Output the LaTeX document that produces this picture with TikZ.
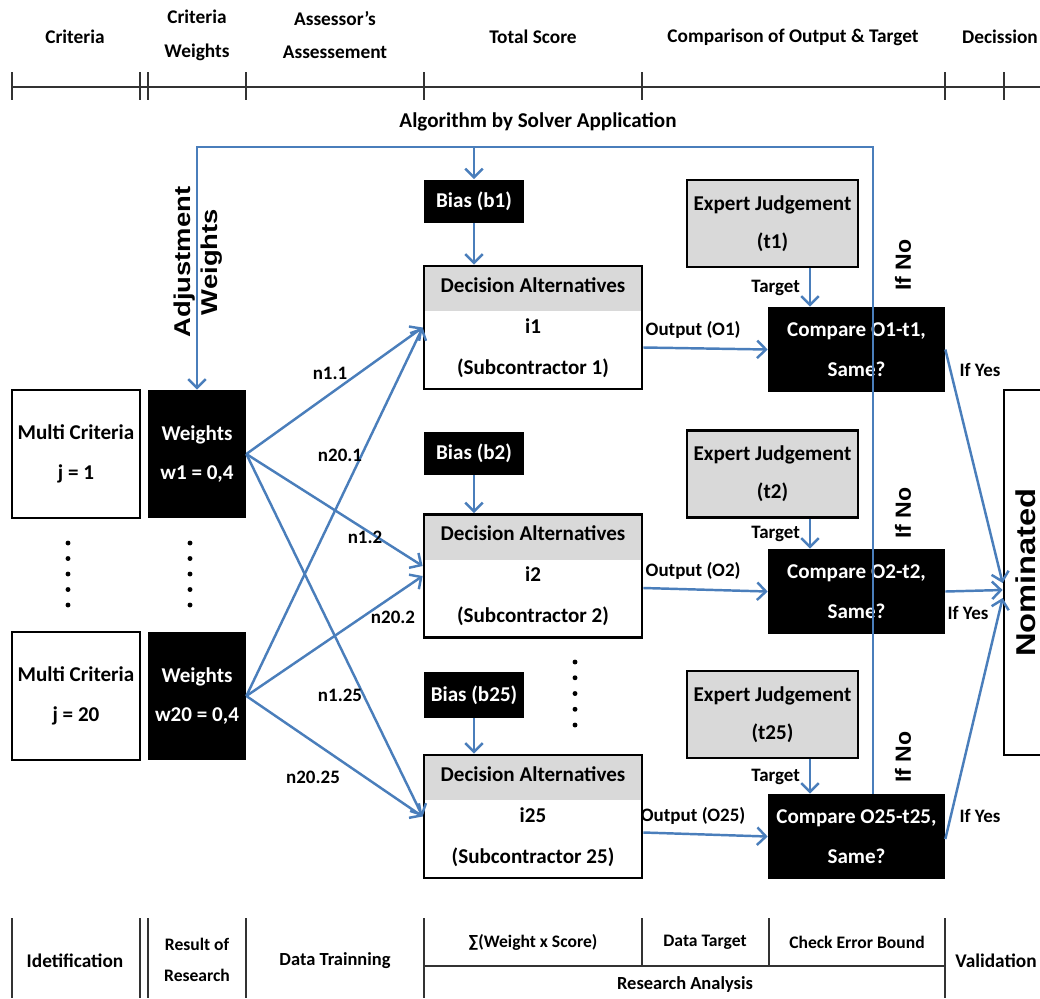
\documentclass[tikz,border=0pt]{standalone}
\usepackage{fontspec}
\usepackage{graphicx}
\setmainfont{Carlito}
\newfontfamily\arialfont{Liberation Sans}
\usetikzlibrary{arrows.meta}
\definecolor{flowblue}{HTML}{4A7EBB}
\definecolor{hdrgray}{HTML}{D9D9D9}
\newcommand{\tallword}[2]{\scalebox{#1}[1]{#2}}

\begin{document}
\begin{tikzpicture}[x=0.02cm, y=-0.02cm,
  every node/.style={inner sep=0pt, font=\fontsize{12}{22.7}\selectfont\bfseries},
  flow/.style={draw=flowblue, line width=1.4pt, -{Straight Barb[length=5pt, width=10pt]}},
  rule/.style={draw=black!80, line width=0.8pt},
  headtxt/.style={align=center, font=\fontsize{11}{19.3}\selectfont\bfseries},
  foottxt/.style={align=center, font=\fontsize{10}{18}\selectfont\bfseries},
  lbl/.style={font=\fontsize{10.8}{12}\selectfont\bfseries},
  side/.style={rotate=90, align=center, font=\arialfont\fontsize{12.5}{15.3}\selectfont\bfseries},
  critbox/.style={draw, line width=1.6pt, minimum width=2.56cm, minimum height=2.56cm, align=center},
  wtbox/.style={fill=black, text=white, minimum width=1.96cm, minimum height=2.56cm, align=center},
  biasbox/.style={fill=black, text=white, minimum width=2cm, minimum height=0.86cm},
  altbox/.style={draw, line width=1.6pt, minimum width=4.36cm, minimum height=2.46cm, align=center,
    font=\fontsize{12}{23.3}\selectfont\bfseries,
    path picture={\fill[hdrgray] (path picture bounding box.north west) rectangle ([yshift=-0.9cm]path picture bounding box.north east);}},
  expbox/.style={draw, line width=1.6pt, fill=hdrgray, minimum width=3.42cm, minimum height=1.74cm, align=center,
    font=\fontsize{12}{21.5}\selectfont\bfseries},
  cmpbox/.style={fill=black, text=white, minimum width=3.54cm, minimum height=1.7cm, align=center}]
  \useasboundingbox (0,0) rectangle (1040,998);

  % header
  \node[headtxt] (hcrit) at (75,37) {Criteria};
  \node[headtxt] (hwt) at (197,35) {Criteria\\Weights};
  \node[headtxt] (hass) at (335,35) {Assessor's\\Assessement};
  \node[headtxt] (htot) at (533,37) {Total Score};
  \node[headtxt] (hcmp) at (793,37) {Comparison of Output \& Target};
  \node[headtxt] (hdec) at (1000,37) {Decission};
  \draw[rule] (12,87) -- (1040,87);
  \foreach \x in {12,140,148,246,424,642,945,1004}
    \draw[rule] (\x,72) -- (\x,100);

  % criteria and weights
  \node[critbox] (crit1) at (76,454) {Multi Criteria\\j = 1};
  \node[wtbox] (wt1) at (197,454) {Weights\\w1 = 0,4};
  \node[critbox] (crit20) at (76,696) {Multi Criteria\\j = 20};
  \node[wtbox] (wt20) at (197,696) {Weights\\w20 = 0,4};
  \foreach \y in {543,558.5,574,589.5,605} {
    \fill (68,\y) circle[radius=1.4pt];
    \fill (190,\y) circle[radius=1.4pt];
  }

  % alternatives
  \node[biasbox] (bias1) at (474,201) {Bias (b1)};
  \node[altbox] (da1) at (533,327.5) {Decision Alternatives\\i1\\(Subcontractor 1)};
  \node[biasbox] (bias2) at (474,453.5) {Bias (b2)};
  \node[altbox] (da2) at (533,576) {Decision Alternatives\\i2\\(Subcontractor 2)};
  \node[biasbox, minimum height=0.92cm] (bias25) at (474,695) {Bias (b25)};
  \node[altbox] (da25) at (533,816.5) {Decision Alternatives\\i25\\(Subcontractor 25)};
  \foreach \y in {662,677.75,693.5,709.25,725}
    \fill (575,\y) circle[radius=1.4pt];
  \foreach \i in {1,2,25}
    \draw[flow] (bias\i.south) -- (bias\i.south |- da\i.north);

  % weight connections
  \draw[flow] (wt1.east) -- (da1.west);
  \draw[flow] (wt1.east) -- ([yshift=0.2cm]da2.west);
  \draw[flow] (wt1.east) -- (da25.west);
  \draw[flow] (wt20.east) -- (da1.west);
  \draw[flow] (wt20.east) -- (da2.west);
  \draw[flow] (wt20.east) -- (da25.west);
  \node[lbl] (n11) at (330,373) {n1.1};
  \node[lbl] (n201) at (340,455) {n20.1};
  \node[lbl] (n12) at (365,537) {n1.2};
  \node[lbl] (n202) at (393,617) {n20.2};
  \node[lbl] (n125) at (340,695) {n1.25};
  \node[lbl] (n2025) at (313,777) {n20.25};

  % targets and comparison
  \node[expbox] (exp1) at (772.5,223.5) {Expert Judgement\\(t1)};
  \node[cmpbox] (cmp1) at (856.5,349.5) {Compare O1-t1,\\Same?};
  \node[expbox] (exp2) at (772.5,474) {Expert Judgement\\(t2)};
  \node[cmpbox] (cmp2) at (856.5,591.5) {Compare O2-t2,\\Same?};
  \node[expbox] (exp25) at (772.5,714.5) {Expert Judgement\\(t25)};
  \node[cmpbox] (cmp25) at (856.5,836.5) {Compare O25-t25,\\Same?};
  \foreach \i in {1,2,25}
    \draw[flow] ([xshift=0.75cm]exp\i.south) -- ([xshift=0.75cm]exp\i.south |- cmp\i.north)
      node[lbl, midway, left=5pt] {Target};
  \draw[flow] ([yshift=-0.4cm]da1.east) -- (cmp1.west)
    node[lbl, pos=0.4, above=5pt] {Output (O1)};
  \draw[flow] ([yshift=-0.24cm]da2.east) -- (cmp2.west)
    node[lbl, pos=0.4, above=5pt] {Output (O2)};
  \draw[flow] ([yshift=-0.32cm]da25.east) -- (cmp25.west)
    node[lbl, pos=0.4, above=5pt] {Output (O25)};

  % solver loop
  \coordinate (loop) at (0,147);
  \draw[flow] ([xshift=0.33cm]cmp25.north) |- (loop -| wt1.north) -- (wt1.north);
  \draw[flow] (loop -| bias1.north) -- (bias1.north);
  \node (alg) at (538,122) {Algorithm by Solver Application};
  \node[side, font=\arialfont\fontsize{13}{15.6}\selectfont\bfseries] (adj) at (198,262)
    {\tallword{1.2}{Adjustment}\\\tallword{1.2}{Weights}};
  \node[side] (no1) at (903,265) {\tallword{1.05}{If No}};
  \node[side] (no2) at (903,513) {\tallword{1.05}{If No}};
  \node[side] (no25) at (903,757) {\tallword{1.05}{If No}};

  % validation
  \node[draw, line width=1.6pt, minimum width=0.88cm, minimum height=7.3cm] (nom) at (1026,572.5)
    {\rotatebox{90}{\arialfont\fontsize{15.5}{18}\selectfont\bfseries\tallword{1.2}{Nominated}}};
  \draw[flow] (cmp1.east) -- ([yshift=-0.21cm]nom.west);
  \draw[flow] (cmp2.east) -- ([yshift=-0.35cm]nom.west);
  \draw[flow] ([yshift=-0.05cm]cmp25.east) -- ([yshift=-0.51cm]nom.west);
  \node[lbl] (yes1) at (980,370) {If Yes};
  \node[lbl] (yes2) at (968,613) {If Yes};
  \node[lbl] (yes25) at (980,816) {If Yes};

  % footer
  \foreach \x in {12,140,148,246,424,945}
    \draw[rule] (\x,918) -- (\x,998);
  \foreach \x in {642,769}
    \draw[rule] (\x,918) -- (\x,966);
  \draw[rule] (424,966) -- (945,966);
  \node[foottxt, font=\fontsize{11}{18}\selectfont\bfseries] (fid) at (75,961) {Idetification};
  \node[foottxt] (fres) at (197,960) {Result of\\Research};
  \node[foottxt, font=\fontsize{10.5}{18}\selectfont\bfseries] (ftrain) at (335,961) {Data Trainning};
  \node[foottxt] (fsum) at (533,942) {∑(Weight x Score)};
  \node[foottxt] (ftar) at (705,942) {Data Target};
  \node[foottxt] (fchk) at (857,942) {Check Error Bound};
  \node[foottxt, font=\fontsize{10.5}{18}\selectfont\bfseries] (fana) at (685,984) {Research Analysis};
  \node[foottxt, font=\fontsize{11}{18}\selectfont\bfseries] (fval) at (996,961) {Validation};
\end{tikzpicture}
\end{document}
